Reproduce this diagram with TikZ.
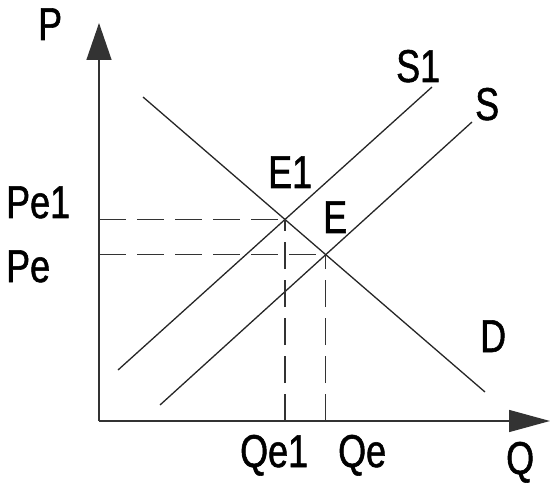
\documentclass[tikz,border=0pt]{standalone}
\usepackage{fontspec}
\setmainfont[FakeStretch=0.78,FakeBold=1.2]{Liberation Sans}
\usetikzlibrary{arrows.meta}
\begin{document}
\begin{tikzpicture}[x=1pt,y=-1pt,
  lbl/.style={inner sep=0pt,font=\fontsize{46}{50}\selectfont},
  curve/.style={line width=1.3pt,black!85},
  axis/.style={line width=1.4pt,black!80},
  guide/.style={line width=1.3pt,black!80,dash pattern=on 27pt off 11pt}]
\useasboundingbox (0,0) rectangle (552,484);
% axes
\coordinate (O) at (99,421);
\coordinate (Ptop) at (99,23);
\coordinate (Qend) at (550,421);
\draw[axis,-{Triangle[length=37pt,width=25pt]}] (O) -- (Ptop);
\draw[axis,-{Triangle[length=41pt,width=22pt]}] (O) -- (Qend);
% curves
\coordinate (Da) at (143,97);
\coordinate (Db) at (485,392);
\coordinate (S1a) at (118,370);
\coordinate (S1b) at (432,87);
\coordinate (Sa) at (160,405);
\coordinate (Sb) at (472,122);
\draw[curve] (Da) -- (Db);
\draw[curve] (S1a) -- (S1b);
\draw[curve] (Sa) -- (Sb);
\coordinate (E1) at (intersection of Da--Db and S1a--S1b);
\coordinate (E) at (intersection of Da--Db and Sa--Sb);
\coordinate (E1y) at (O |- E1);
\coordinate (Ey) at (O |- E);
\coordinate (E1x) at (E1 |- O);
\coordinate (Ex) at (E |- O);
\draw[guide] (E1y) -- (E1);
\draw[guide] (Ey) -- (E);
\draw[guide] (E1x) -- (E1);
\draw[guide] (Ex) -- (E);
% labels
\node[lbl,anchor=base west] (lP) at (38,40) {P};
\node[lbl,anchor=base west] (lPe1) at (6,218) {Pe1};
\node[lbl,anchor=base west] (lPe) at (6,282) {Pe};
\node[lbl,anchor=base west] (lE1) at (268,188) {E1};
\node[lbl,anchor=base west] (lE) at (323,233) {E};
\node[lbl,anchor=base west] (lS1) at (396,82) {S1};
\node[lbl,anchor=base west] (lS) at (475,120) {S};
\node[lbl,anchor=base west] (lD) at (480,352) {D};
\node[lbl,anchor=base west] (lQe1) at (240,467) {Qe1};
\node[lbl,anchor=base west] (lQe) at (338,467) {Qe};
\node[lbl,anchor=base west] (lQ) at (506,474) {Q};
\end{tikzpicture}
\end{document}
